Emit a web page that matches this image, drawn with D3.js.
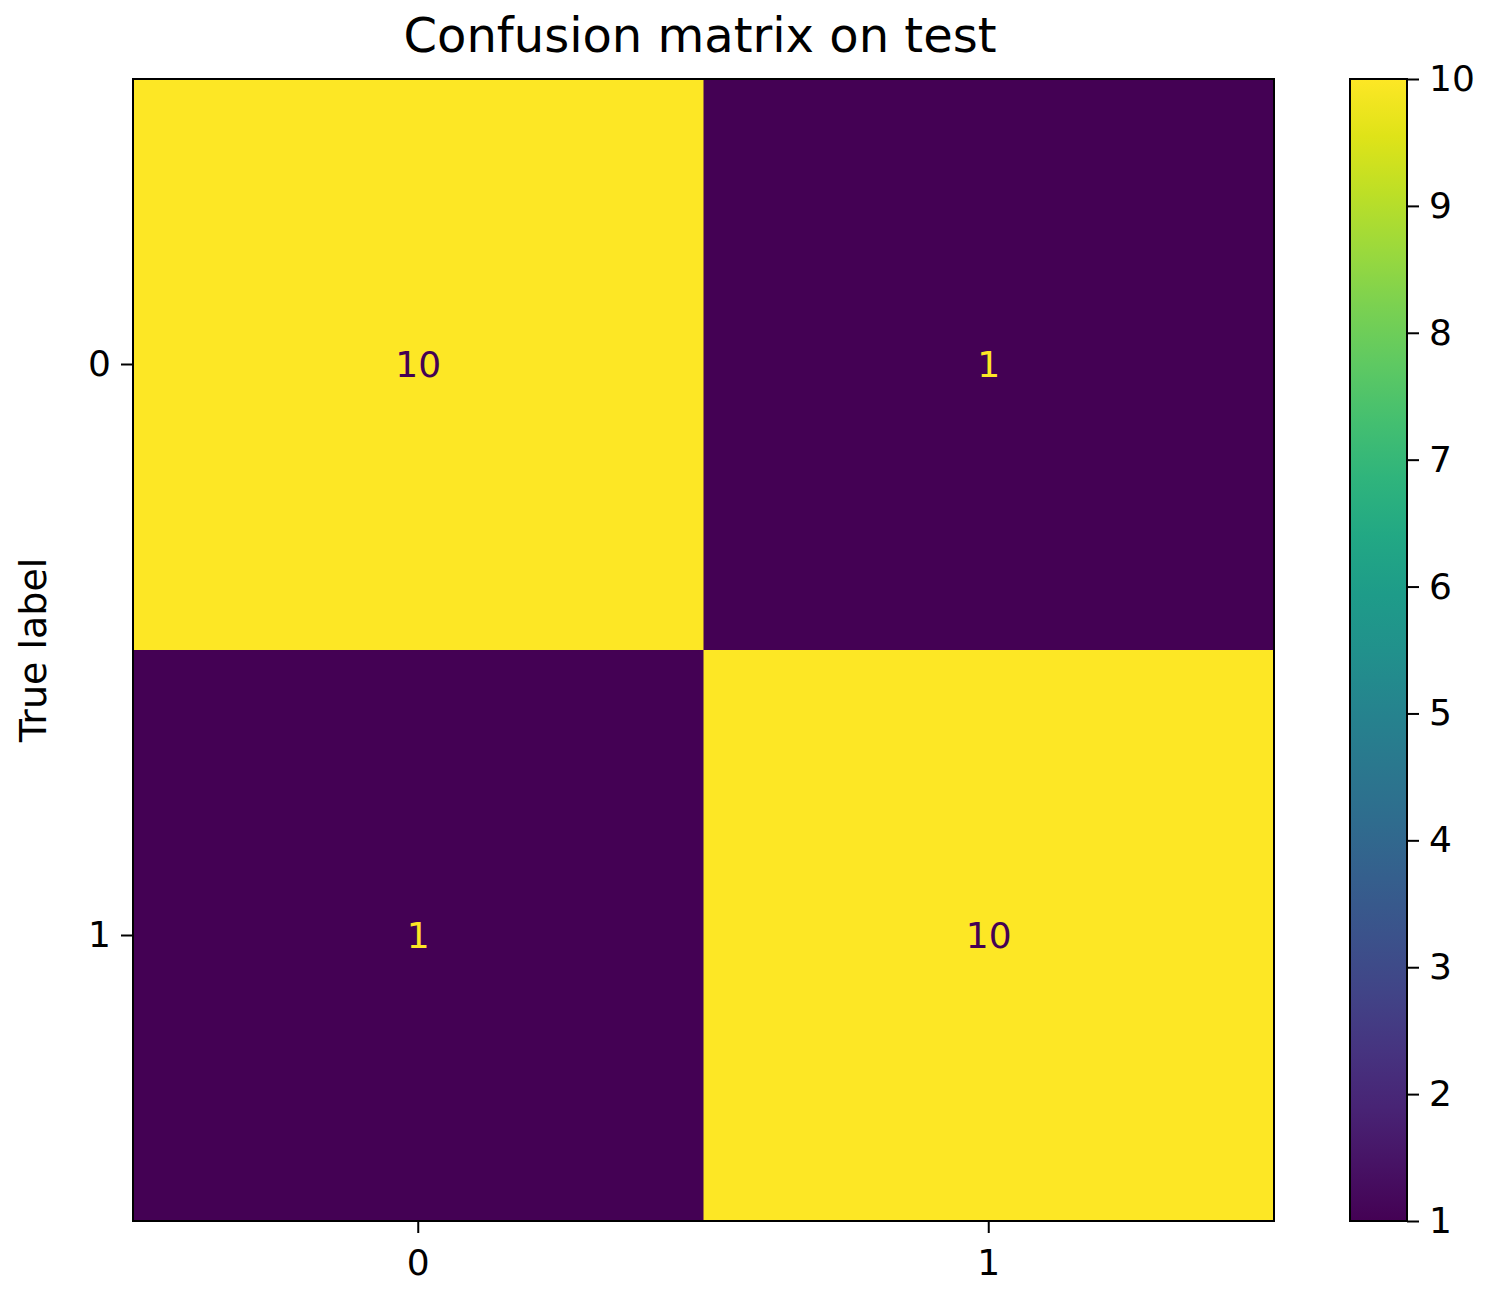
<!DOCTYPE html>
<html><head><meta charset="utf-8">
<script src="https://cdn.jsdelivr.net/npm/d3@7"></script>
<style>body{margin:0;background:#fff}text{font-family:"DejaVu Sans",sans-serif;fill:#000}</style>
</head><body><svg id="c" width="1492" height="1297"></svg>
<script>
const trueLabels = ["0","1"];
const predLabels = ["0","1"];
const matrix = [[10,1],[1,10]];
const cbTicks = [1,2,3,4,5,6,7,8,9,10];
const title = "Confusion matrix on test";

const svg = d3.select("#c");
const L=133,R=1274,T=79,B=1221;
const x = d3.scaleBand().domain(predLabels).range([L,R]);
const y = d3.scaleBand().domain(trueLabels).range([T,B]);
const color = d3.scaleSequential(d3.interpolateViridis).domain([1,10]);
const cells=[];
matrix.forEach((row,i)=>row.forEach((v,j)=>cells.push({t:trueLabels[i],p:predLabels[j],v})));
svg.selectAll("rect.cell").data(cells).join("rect").attr("class","cell")
  .attr("x",d=>x(d.p)).attr("y",d=>y(d.t)).attr("width",x.bandwidth()+0.5).attr("height",y.bandwidth()+0.5)
  .attr("fill",d=>color(d.v));
svg.selectAll("text.val").data(cells).join("text").attr("class","val")
  .attr("x",d=>x(d.p)+x.bandwidth()/2).attr("y",d=>y(d.t)+y.bandwidth()/2)
  .attr("text-anchor","middle").attr("dominant-baseline","central").attr("font-size",36)
  .style("fill",d=>d.v>5.5?color(1):color(10)).text(d=>d.v);
svg.append("rect").attr("x",L).attr("y",T).attr("width",R-L).attr("height",B-T).attr("fill","none").attr("stroke","#000").attr("stroke-width",2);

const ax=svg.append("g").attr("transform",`translate(0,${B})`).call(d3.axisBottom(x).tickSize(12).tickPadding(10));
const ay=svg.append("g").attr("transform",`translate(${L},0)`).call(d3.axisLeft(y).tickSize(12).tickPadding(10));
[ax,ay].forEach(g=>{g.select(".domain").remove();g.selectAll("line").attr("stroke","#000").attr("stroke-width",2);g.selectAll("text").attr("font-size",36).attr("font-family","DejaVu Sans");});
ax.selectAll("text").attr("dy","0.9em");

svg.append("text").attr("x",700).attr("y",52).attr("text-anchor","middle").attr("font-size",48).text(title);
svg.append("text").attr("transform","translate(46,650) rotate(-90)").attr("text-anchor","middle").attr("font-size",38).text("True label");

// colorbar
const cx=1350,cw=57;
const cy=d3.scaleLinear().domain([1,10]).range([B,T]);
const defs=svg.append("defs");
const g=defs.append("linearGradient").attr("id","vg").attr("x1",0).attr("y1",1).attr("x2",0).attr("y2",0);
d3.range(0,1.001,0.05).forEach(t=>g.append("stop").attr("offset",t).attr("stop-color",d3.interpolateViridis(t)));
svg.append("rect").attr("x",cx).attr("y",T).attr("width",cw).attr("height",B-T).attr("fill","url(#vg)").attr("stroke","#000").attr("stroke-width",2);
const ac=svg.append("g").attr("transform",`translate(${cx+cw},0)`).call(d3.axisRight(cy).tickValues(cbTicks).tickFormat(d3.format("d")).tickSize(12).tickPadding(10));
ac.select(".domain").remove();
ac.selectAll("line").attr("stroke","#000").attr("stroke-width",2);
ac.selectAll("text").attr("font-size",36).attr("font-family","DejaVu Sans");
</script></body></html>
